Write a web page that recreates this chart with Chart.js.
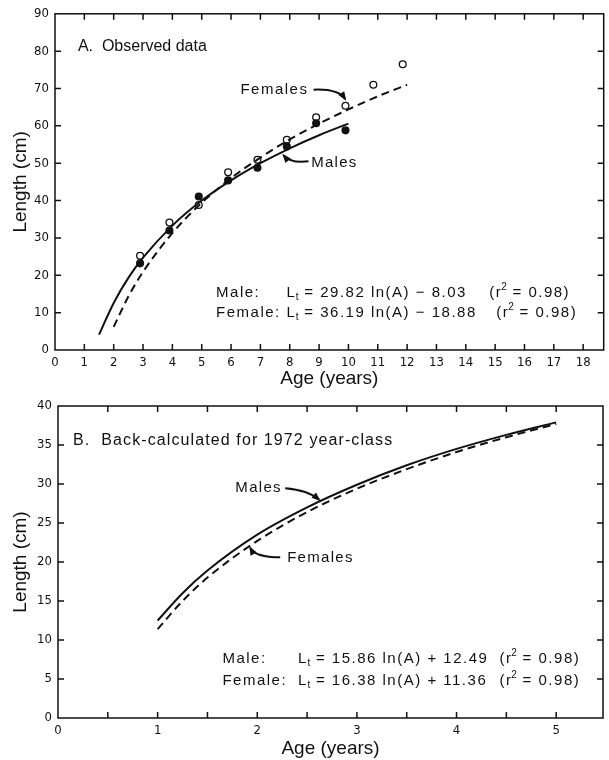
<!DOCTYPE html>
<html>
<head>
<meta charset="utf-8">
<script src="https://cdn.jsdelivr.net/npm/chart.js@4.4.1/dist/chart.umd.min.js"></script>
<style>
  html, body { margin: 0; padding: 0; background: #fff; }
  #chartA { position: absolute; left: 0; top: 0; }
  #chartB { position: absolute; left: 0; top: 390px; }
</style>
</head>
<body>
<canvas id="chartA" width="609" height="390"></canvas>
<canvas id="chartB" width="609" height="370"></canvas>
<script>
// ── Panel A: observed mean length at age ─────────────────────
const obsAges      = [2.9, 3.9, 4.9, 5.9, 6.9, 7.9, 8.9, 9.9, 10.85, 11.85];
const femaleObs    = [25.2, 34.1, 38.8, 47.6, 50.9, 56.3, 62.3, 65.4, 71.0, 76.5];
const maleObsAges  = [2.9, 3.9, 4.9, 5.9, 6.9, 7.9, 8.9, 9.9];
const maleObs      = [23.2, 32.0, 41.1, 45.4, 48.8, 54.5, 60.7, 58.8];

// fitted curves
const maleFitAgesA   = [1.5, 2, 2.5, 3, 4, 5, 6, 7, 8, 9, 10];
const maleFitA       = [4.1, 12.6, 19.3, 24.7, 33.3, 40.0, 45.4, 50.0, 54.0, 57.5, 60.6];
const femaleFitAgesA = [2, 2.5, 3, 4, 5, 6, 7, 8, 9, 10, 11, 12];
const femaleFitA     = [6.2, 14.3, 20.9, 31.3, 39.4, 46.0, 51.5, 56.4, 60.6, 64.4, 67.9, 71.0];

// ── Panel B: back-calculated, 1972 year-class ────────────────
const fitAgesB   = [1, 1.25, 1.5, 2, 2.5, 3, 3.5, 4, 4.5, 5];
const maleFitB   = [12.5, 16.0, 18.9, 23.5, 27.0, 29.9, 32.4, 34.5, 36.3, 37.9];
const femaleFitB = [11.4, 15.0, 18.0, 22.7, 26.4, 29.4, 31.9, 34.1, 36.0, 37.7];

const TEXT_FONT = "'Liberation Sans', Arial, sans-serif";
const TICK_FONT = "'Liberation Sans Narrow', 'DejaVu Sans Condensed', 'Liberation Sans', sans-serif";
const INK = '#111';

const pts = (xs, ys) => xs.map((x, i) => ({ x, y: ys[i] }));

function curve(label, xs, ys, dashed) {
    return {
        label,
        data: pts(xs, ys),
        showLine: true,
        borderColor: INK,
        borderWidth: 2,
        borderDash: dashed ? [8, 5] : [],
        pointRadius: 0,
        cubicInterpolationMode: 'monotone',
        fill: false
    };
}

function dots(label, xs, ys, open) {
    return {
        label,
        data: pts(xs, ys),
        showLine: false,
        pointRadius: 3.4,
        pointBorderWidth: 1.3,
        pointBorderColor: INK,
        pointBackgroundColor: open ? '#fff' : INK
    };
}

// ── Frame, inward ticks and annotations ──────────────────────
function framePlugin(notes) {
    return {
        id: 'frame',
        afterDraw(chart) {
            const { ctx, chartArea: a, scales: { x, y } } = chart;
            const X = v => x.getPixelForValue(v);
            const Y = v => y.getPixelForValue(v);
            const T = 6;

            ctx.save();
            ctx.strokeStyle = INK;
            ctx.lineWidth = 1.5;
            ctx.strokeRect(a.left, a.top, a.right - a.left, a.bottom - a.top);
            ctx.beginPath();
            x.ticks.forEach(t => {
                const px = X(t.value);
                if (px <= a.left + 1 || px >= a.right - 1) return;
                ctx.moveTo(px, a.bottom); ctx.lineTo(px, a.bottom - T);
                ctx.moveTo(px, a.top);    ctx.lineTo(px, a.top + T);
            });
            y.ticks.forEach(t => {
                const py = Y(t.value);
                if (py >= a.bottom - 1 || py <= a.top + 1) return;
                ctx.moveTo(a.left, py);  ctx.lineTo(a.left + T, py);
                ctx.moveTo(a.right, py); ctx.lineTo(a.right - T, py);
            });
            ctx.stroke();

            ctx.fillStyle = INK;
            ctx.textBaseline = 'alphabetic';
            ctx.textAlign = 'left';
            const put = (s, px, py, size, sp) => {
                ctx.font = `${size}px ${TEXT_FONT}`;
                ctx.letterSpacing = (sp || 0) + 'px';
                ctx.fillText(s, px, py);
                return px + ctx.measureText(s).width;
            };

            notes.texts.forEach(t => put(t.text, X(t.x), Y(t.y), t.size, t.sp));

            notes.eqs.forEach(e => {
                const by = Y(e.y);
                put(e.name, X(e.nameX), by, 15, 1.5);
                let p = put('L', X(e.lX), by, 15, 1.5);
                p = put('t', p - 0.5, by + 3, 10, 0);
                put(' = ' + e.body, p, by, 15, 1.5);
                p = put('(r', X(e.rX), by, 15, 1.5);
                p = put('2', p - 1, by - 7, 10, 0);
                put(' = 0.98)', p, by, 15, 1.5);
            });

            ctx.lineWidth = 2;
            notes.arrows.forEach(([x0, y0, cx, cy, x1, y1]) => {
                const p0 = [X(x0), Y(y0)], c = [X(cx), Y(cy)], p1 = [X(x1), Y(y1)];
                ctx.beginPath();
                ctx.moveTo(p0[0], p0[1]);
                ctx.quadraticCurveTo(c[0], c[1], p1[0], p1[1]);
                ctx.stroke();
                const ang = Math.atan2(p1[1] - c[1], p1[0] - c[0]);
                const L = 7, W = 3.5;
                ctx.beginPath();
                ctx.moveTo(p1[0] + Math.cos(ang) * 2, p1[1] + Math.sin(ang) * 2);
                ctx.lineTo(p1[0] - Math.cos(ang) * L - Math.sin(ang) * W, p1[1] - Math.sin(ang) * L + Math.cos(ang) * W);
                ctx.lineTo(p1[0] - Math.cos(ang) * L + Math.sin(ang) * W, p1[1] - Math.sin(ang) * L - Math.cos(ang) * W);
                ctx.closePath();
                ctx.fill();
            });
            ctx.restore();
        }
    };
}

function axes(xMax, xStep, yMax, yStep, yWidth, xHeight, intLabels) {
    return {
        x: {
            type: 'linear', min: 0, max: xMax,
            afterFit: s => { s.height = xHeight; },
            grid: { display: false, drawTicks: false },
            border: { display: false },
            ticks: {
                stepSize: xStep, includeBounds: false, autoSkip: false, maxRotation: 0,
                padding: 5, color: INK,
                font: { family: TICK_FONT, size: 13 },
                callback: v => (intLabels && !Number.isInteger(v)) ? '' : v
            },
            title: {
                display: true, text: 'Age (years)', color: INK,
                font: { family: TEXT_FONT, size: 19 },
                padding: { top: 0, bottom: 0 }
            }
        },
        y: {
            type: 'linear', min: 0, max: yMax,
            afterFit: s => { s.width = yWidth; },
            grid: { display: false, drawTicks: false },
            border: { display: false },
            ticks: {
                stepSize: yStep, includeBounds: false, padding: 6, color: INK,
                font: { family: TICK_FONT, size: 13 }
            },
            title: {
                display: true, text: 'Length (cm)', color: INK,
                font: { family: TEXT_FONT, size: 19 },
                padding: { top: 9, bottom: 0 }
            }
        }
    };
}

const baseOptions = {
    responsive: false,
    animation: false,
    plugins: { legend: { display: false }, tooltip: { enabled: false } }
};

// ── Chart A ──────────────────────────────────────────────────
const notesA = {
    texts: [
        { text: 'A.  Observed data', x: 0.78, y: 80.1, size: 16, sp: 0 },
        { text: 'Females', x: 6.32, y: 68.6, size: 15, sp: 1.5 },
        { text: 'Males', x: 8.73, y: 49.1, size: 15, sp: 1.3 }
    ],
    eqs: [
        { name: 'Male:', nameX: 5.49, lX: 7.89, rX: 14.80, y: 14.2, body: '29.82 ln(A) − 8.03' },
        { name: 'Female:', nameX: 5.49, lX: 7.89, rX: 15.04, y: 8.9, body: '36.19 ln(A) − 18.88' }
    ],
    arrows: [
        [8.81, 69.7, 9.65, 70.0, 9.89, 67.2],
        [8.64, 50.5, 8.03, 49.9, 7.79, 52.1]
    ]
};

new Chart(document.getElementById('chartA'), {
    type: 'scatter',
    data: {
        datasets: [
            curve('Males fit', maleFitAgesA, maleFitA, false),
            curve('Females fit', femaleFitAgesA, femaleFitA, true),
            dots('Males', maleObsAges, maleObs, false),
            dots('Females', obsAges, femaleObs, true)
        ]
    },
    options: {
        ...baseOptions,
        layout: { padding: { top: 13, right: 2, left: 0, bottom: 0 } },
        scales: axes(18.7, 1, 90, 10, 55, 40, false)
    },
    plugins: [framePlugin(notesA)]
});

// ── Chart B ──────────────────────────────────────────────────
const notesB = {
    texts: [
        { text: 'B.  Back-calculated for 1972 year-class', x: 0.15, y: 35.0, size: 16, sp: 1.1 },
        { text: 'Males', x: 1.78, y: 29.0, size: 15, sp: 1.3 },
        { text: 'Females', x: 2.30, y: 20.0, size: 15, sp: 1.3 }
    ],
    eqs: [
        { name: 'Male:', nameX: 1.65, lX: 2.41, rX: 4.43, y: 7.05, body: '15.86 ln(A) + 12.49' },
        { name: 'Female:', nameX: 1.65, lX: 2.41, rX: 4.43, y: 4.24, body: '16.38 ln(A) + 11.36' }
    ],
    arrows: [
        [2.28, 29.45, 2.51, 29.2, 2.62, 28.0],
        [2.23, 20.6, 1.98, 20.6, 1.93, 21.8]
    ]
};

new Chart(document.getElementById('chartB'), {
    type: 'scatter',
    data: {
        datasets: [
            curve('Males', fitAgesB, maleFitB, false),
            curve('Females', fitAgesB, femaleFitB, true)
        ]
    },
    options: {
        ...baseOptions,
        layout: { padding: { top: 16, right: 6, left: 0, bottom: 0 } },
        scales: axes(5.47, 0.5, 40, 5, 58, 42, true)
    },
    plugins: [framePlugin(notesB)]
});
</script>
</body>
</html>
